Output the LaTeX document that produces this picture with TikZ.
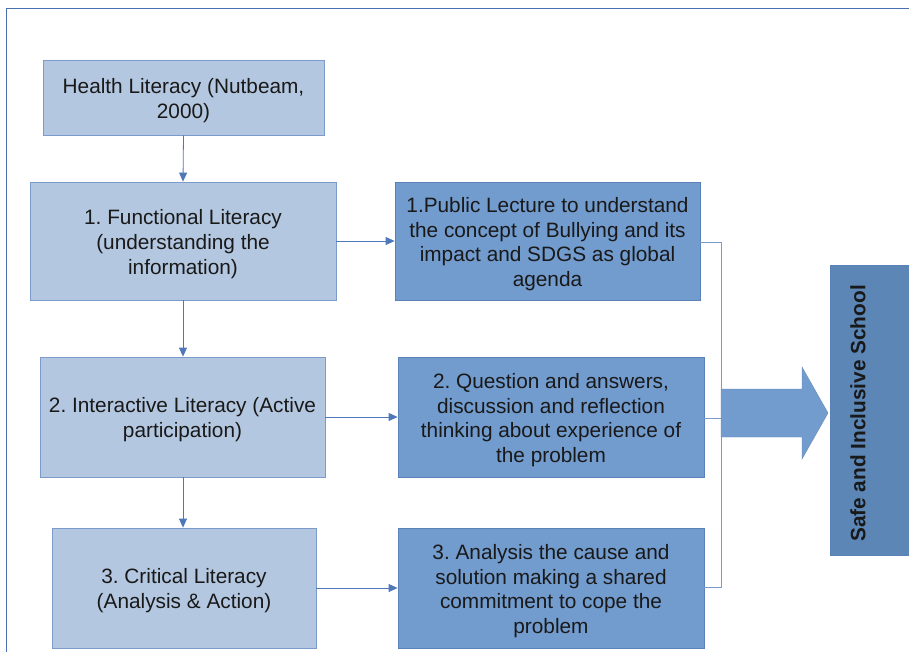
\documentclass[tikz,border=0pt]{standalone}
\usepackage{fontspec}
\setmainfont{Liberation Sans}
\usetikzlibrary{arrows.meta,calc}
\definecolor{lightfill}{HTML}{B4C7E0}
\definecolor{lightedge}{HTML}{7B9CCB}
\definecolor{darkfill}{HTML}{729BCE}
\definecolor{darkedge}{HTML}{5A82B8}
\definecolor{goalfill}{HTML}{5B86B6}
\definecolor{linkblue}{HTML}{4F78B8}
\definecolor{framecol}{HTML}{4A70B0}
\tikzset{
  boxtext/.style={align=center, text=black!90},
  lightbox/.style={draw=lightedge, line width=0.8pt, fill=lightfill, inner sep=0pt,
    boxtext, font=\fontsize{20.8}{25}\selectfont},
  darkbox/.style={draw=darkedge, line width=0.8pt, fill=darkfill, inner sep=0pt,
    boxtext, font=\fontsize{20.8}{24.5}\selectfont},
  link/.style={draw=linkblue, line width=0.8pt, -{Triangle[length=9pt,width=8pt]}},
  bracket/.style={draw=lightedge, line width=0.9pt},
}
\begin{document}
\frenchspacing
\begin{tikzpicture}[x=1pt,y=-1pt]
\useasboundingbox (0,0) rectangle (909,651);
% outer frame (runs off the right and bottom edges)
\draw[framecol, line width=0.9pt] (6,660) -- (6,8) -- (920,8);

% left column: literacy levels
\node[lightbox, minimum width=281pt, minimum height=75pt] (hl) at (183.5,97.5) {};
\node[boxtext, font=\fontsize{20.8}{25}\selectfont] (hlt) at (183.5,100.5)
  {Health Literacy (Nutbeam,\\2000)};
\node[lightbox, minimum width=306pt, minimum height=118pt] (f1) at (183,241) {};
\node[boxtext, font=\fontsize{20.8}{25}\selectfont] (f1t) at (183,244)
  {1. Functional Literacy\\(understanding the\\information)};
\node[lightbox, minimum width=285pt, minimum height=120pt] (f2) at (182.5,417) {};
\node[boxtext, font=\fontsize{20.8}{25}\selectfont] (f2t) at (182.5,420)
  {2. Interactive Literacy (Active\\participation)};
\node[lightbox, minimum width=264pt, minimum height=120pt] (f3) at (184,588) {};
\node[boxtext, font=\fontsize{20.8}{25}\selectfont] (f3t) at (184,591)
  {3. Critical Literacy\\(Analysis \& Action)};

% middle column: activities
\node[darkbox, minimum width=305pt, minimum height=118pt] (r1) at (547.5,241) {};
\node[boxtext, font=\fontsize{20.8}{24.5}\selectfont] (r1t) at (547.5,244)
  {1.Public Lecture to understand\\the concept of Bullying and its\\impact and SDGS as global\\agenda};
\node[darkbox, minimum width=306pt, minimum height=120pt] (r2) at (551,417) {};
\node[boxtext, font=\fontsize{20.8}{24.5}\selectfont] (r2t) at (551,420)
  {2. Question and answers,\\discussion and reflection\\thinking about experience of\\the problem};
\node[darkbox, minimum width=306pt, minimum height=120pt] (r3) at (551,588) {};
\node[boxtext, font=\fontsize{20.8}{24.5}\selectfont] (r3t) at (551,591)
  {3. Analysis the cause and\\solution making a shared\\commitment to cope the\\problem};

% goal box
\node[draw=darkedge, line width=0.8pt, fill=goalfill, minimum width=82pt, minimum height=290pt,
  inner sep=0pt] (goal) at (871,410) {};
\node[rotate=90, font=\fontsize{20.8}{25}\selectfont\bfseries, text=black!90] (goalt) at (858,413.5)
  {Safe and Inclusive School};

% vertical links between levels
\draw[link] (hl.south) -- (f1.north);
\draw[link] (f1.south) -- (f2.north -| f1.south);
\draw[link] (f2.south -| f1.south) -- (f3.north -| f1.south);

% horizontal links to activities
\draw[link] (f1.east) -- (r1.west);
\draw[link] (f2.east) -- (r2.west);
\draw[link] (f3.east |- r3.west) -- (r3.west);

% bracket gathering the activities
\coordinate (b1) at (721,242);
\coordinate (b2) at (721,418);
\coordinate (b3) at (721,587);
\draw[bracket] (r1.east |- b1) -- (b1) -- (b3) -- (r3.east |- b3);
\draw[bracket] (r2.east |- b2) -- (b2);

% block arrow towards the goal
\fill[darkfill, draw=darkfill!90!black, line width=0.4pt]
  (721,389) -- (802,389) -- (802,367) -- (828,413) -- (802,459) -- (802,437) -- (721,437) -- cycle;
\end{tikzpicture}
\end{document}
